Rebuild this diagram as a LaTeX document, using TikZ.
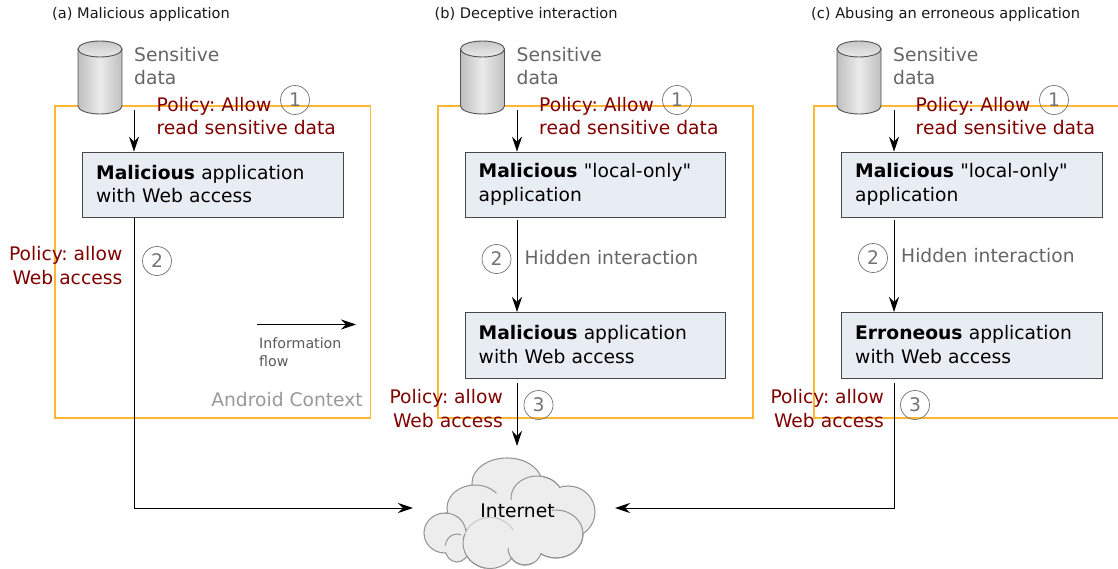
\documentclass[tikz,border=0pt]{standalone}
\usepackage{fontspec}
\setmainfont{DejaVu Sans}
\usetikzlibrary{arrows.meta,calc}
\frenchspacing
\font\quotefont="DejaVu Sans" at 18.7pt
\newcommand{\sq}{{\quotefont\char34 }}
\newcommand{\mainfs}{\fontsize{18.7}{23.4}\selectfont}
\definecolor{boxfill}{HTML}{E8ECF3}
\definecolor{ctxorange}{HTML}{FFB733}
\definecolor{cloudfill}{HTML}{EDEDED}
\tikzset{
  txt/.style={inner sep=0pt,font=\mainfs,align=left,anchor=west},
  title/.style={inner sep=0pt,anchor=west,font=\fontsize{14.6}{17}\selectfont,text=black!90},
  graytxt/.style={txt,text=black!60},
  policy/.style={txt,text=red!50!black},
  policyr/.style={inner sep=0pt,font=\mainfs,align=right,anchor=east,text=red!50!black},
  appbox/.style={draw=black!72,line width=0.9pt,fill=boxfill,minimum width=260.5pt,minimum height=65.5pt,
     text width=233pt,inner sep=0pt,align=left,font=\mainfs,anchor=north west,text=black},
  num/.style={circle,draw=black!55,line width=0.7pt,minimum size=29pt,inner sep=0pt,text=black!55,font=\mainfs},
  flow/.style={draw=black,line width=1pt,-{Stealth[length=15pt,width=10pt,inset=5pt]}},
  ctx/.style={draw=ctxorange,line width=1.15pt},
  cloudp/.style={draw=black!42,line width=1.1pt,fill=cloudfill},
  cloudin/.style={draw=black!42,line width=1pt},
}
\newcommand{\dbcyl}[2]{%
  \node[inner sep=0pt,minimum width=44pt,minimum height=73pt,anchor=north west] (#1) at (#2,41) {};
  \begin{scope}[shift={(#2,41)}]
    \path[left color=black!25,right color=black!25,middle color=black!8,draw=black!68,line width=0.9pt]
      (0,8) -- (0,65) arc[start angle=180,end angle=0,x radius=22,y radius=8] -- (44,8) -- cycle;
    \path[top color=black!22,bottom color=black!8,draw=black!68,line width=0.9pt]
      (22,8) ellipse[x radius=22,y radius=8];
  \end{scope}}
% one lobe of the cloud: outline, and later its inside without the outline
\newcommand{\lobe}[4]{\path[cloudp] (#1,#2) ellipse[x radius=#3,y radius=#4];}
\newcommand{\lobein}[4]{\path[fill=cloudfill] (#1,#2) ellipse[x radius=#3-0.9,y radius=#4-0.9];}
\newcommand{\lobearc}[7][cloudin]{\draw[#1] ({#2+#4*cos(#6)},{#3+#5*sin(#6)}) arc[start angle=#6,end angle=#7,x radius=#4,y radius=#5];}
\begin{document}
\begin{tikzpicture}[x=1pt,y=-1pt]
\useasboundingbox[fill=white] (0,0) rectangle (1118,569);
% context frames
\draw[ctx] (55,106) rectangle (370.5,418);
\draw[ctx] (438,106) rectangle (753,418);
\draw[ctx] (1119,106) -- (814,106) -- (814,418) -- (1119,418);
% titles
\node[title] (ta) at (52,14) {(a) Malicious application};
\node[title] (tb) at (434.5,14) {(b) Deceptive interaction};
\node[title] (tc) at (811,14) {(c) Abusing an erroneous application};
% cylinders
\dbcyl{cylA}{78}
\dbcyl{cylB}{460.5}
\dbcyl{cylC}{837}
\node[graytxt] (sa) at (134,66) {Sensitive\\data};
\node[graytxt] (sb) at (516.5,66) {Sensitive\\data};
\node[graytxt] (sc) at (893,66) {Sensitive\\data};
% policy read
\node[policy] (pa) at (156.5,116.3) {Policy: Allow\\read sensitive data};
\node[policy] (pb) at (539,116.3) {Policy: Allow\\read sensitive data};
\node[policy] (pc) at (915.5,116.3) {Policy: Allow\\read sensitive data};
\node[num] (na1) at (295,100) {1};
\node[num] (nb1) at (677,100) {1};
\node[num] (nc1) at (1054,100) {1};
% boxes
\node[appbox] (ba) at (82,151.7) {\textbf{Malicious} application\\with Web access\par\vspace{1.5pt}};
\node[appbox] (bb) at (464.5,151.7) {\textbf{Malicious} \sq local-only\sq\\application\par\vspace{1.5pt}};
\node[appbox] (bb2) at (464.5,312) {\textbf{Malicious} application\\with Web access\par\vspace{1.5pt}};
\node[appbox] (bc) at (841,151.7) {\textbf{Malicious} \sq local-only\sq\\application\par\vspace{1.5pt}};
\node[appbox] (bc2) at (841,312) {\textbf{Erroneous} application\\with Web access\par\vspace{1.5pt}};
% free ends
\coordinate (a1) at (134,110);
\coordinate (b1) at (517,110);
\coordinate (c1) at (894,110);
\coordinate (a2) at (134,218);
\coordinate (b2) at (517,220);
\coordinate (b3) at (517,383);
\coordinate (b4) at (517,446);
\coordinate (c2) at (894,220);
\coordinate (c3) at (894,383);
\coordinate (inL) at (413,508);
\coordinate (inR) at (615,508);
\coordinate (ifs) at (257,324.5);
\coordinate (ife) at (356,324.5);
% connectors
\draw[flow] (a1) -- (a1 |- ba.north);
\draw[flow] (b1) -- (b1 |- bb.north);
\draw[flow] (c1) -- (c1 |- bc.north);
\draw[flow] (a2) -- (a2 |- inL) -- (inL);
\draw[flow] (b2) -- (b2 |- bb2.north);
\draw[flow] (c2) -- (c2 |- bc2.north);
\draw[flow] (b3) -- (b4);
\draw[flow] (c3) -- (c3 |- inR) -- (inR);
\draw[flow] (ifs) -- (ife);
% labels
\node[policyr] (pa2) at (122.5,265.5) {Policy: allow\\Web access};
\node[policyr] (pb2) at (503,408.5) {Policy: allow\\Web access};
\node[policyr] (pc2) at (884,408.5) {Policy: allow\\Web access};
\node[num] (na2) at (157,261) {2};
\node[num] (nb2) at (496.5,259) {2};
\node[num] (nb3) at (538.5,405) {3};
\node[num] (nc2) at (873,258) {2};
\node[num] (nc3) at (915,405) {3};
\node[graytxt] (hb) at (524.5,258) {Hidden interaction};
\node[graytxt] (hc) at (901,256) {Hidden interaction};
\node[inner sep=0pt,anchor=west,align=left,text=black!65,font=\fontsize{14.2}{18}\selectfont] (ifl) at (259,352) {Information\\flow};
\node[inner sep=0pt,anchor=east,text=black!40,font=\mainfs] (ac) at (363,400) {Android Context};
% cloud: outer outline
\lobe{507}{483}{35}{25}
\lobe{568}{512}{27}{26}
\lobe{537}{498}{26}{22}
\lobe{475}{508}{28}{23}
\lobe{556}{534}{27}{24}
\lobe{445}{533}{21}{20}
\lobe{457}{548}{12}{14}
\lobe{525}{548}{17}{17}
\lobe{490}{543}{27}{25.5}
% cloud: insides
\lobein{507}{483}{35}{25}
\lobein{568}{512}{27}{26}
\lobein{537}{498}{26}{22}
\lobein{475}{508}{28}{23}
\lobein{556}{534}{27}{24}
\lobein{445}{533}{21}{20}
\lobein{457}{548}{12}{14}
\lobein{525}{548}{17}{17}
\lobein{490}{543}{27}{25.5}
\path[fill=cloudfill] (500,505) ellipse[x radius=30,y radius=25];
\path[fill=cloudfill] (530,520) ellipse[x radius=24,y radius=20];
% cloud: inner arcs
\lobearc{537}{498}{26}{22}{175}{327}
\lobearc{556}{534}{27}{24}{261}{485}
\lobearc[draw=black!22,line width=1pt]{490}{543}{27}{25.5}{190}{330}
\lobearc{490}{543}{27}{25.5}{100}{200}
\lobearc{475}{508}{28}{23}{265}{320}
\lobearc{445}{533}{21}{20}{270}{350}
\lobearc{457}{548}{12}{14}{190}{290}
\lobearc{525}{548}{17}{17}{180}{60}
\node[inner sep=0pt,font=\mainfs,text=black] (net) at (517.5,511) {Internet};
\end{tikzpicture}
\end{document}
